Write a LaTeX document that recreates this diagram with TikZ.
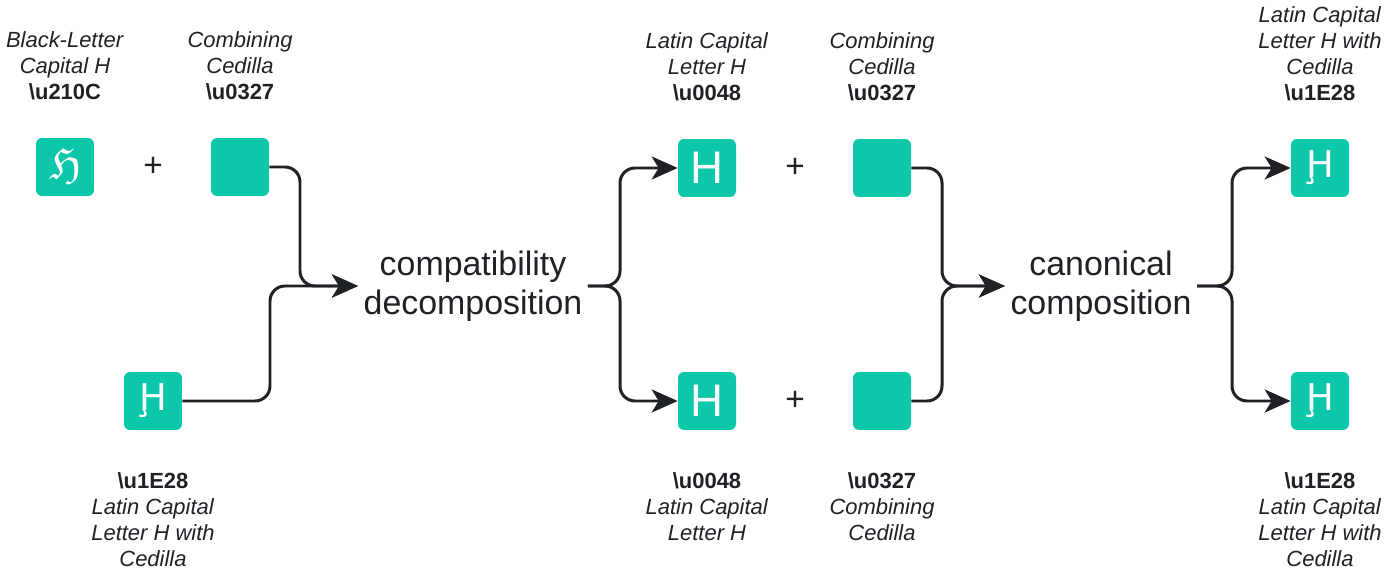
\documentclass[tikz,border=0pt]{standalone}
\usepackage{fontspec}
\setmainfont{Liberation Sans}
\newfontfamily\dejavu{DejaVu Sans}
\usepackage{tikz}
\usetikzlibrary{positioning,arrows.meta}
\definecolor{tealbox}{RGB}{12,199,169}
\definecolor{ink}{RGB}{30,33,38}

\begin{document}
\begin{tikzpicture}[
			x=0.02cm, y=-0.02cm,
			box/.style={fill=tealbox, rounded corners=0.12cm, minimum size=1.16cm, inner sep=0pt, text=white},
			hbox/.style={box, font=\fontsize{26}{26}\selectfont},
			dbox/.style={box, font=\dejavu\fontsize{21}{21}\selectfont},
			fbox/.style={box, font=\dejavu\fontsize{24}{24}\selectfont},
			lbl/.style={align=center, inner sep=0pt, text=ink, font=\fontsize{12.5}{14.8}\selectfont},
			big/.style={align=center, inner sep=3pt, text=ink, font=\fontsize{19.3}{22.2}\selectfont},
			plus/.style={text=ink, font=\fontsize{19}{20}\selectfont},
			link/.style={draw=ink, line width=1.7pt, rounded corners=0.3cm, -{Stealth[length=0.52cm,width=0.46cm,inset=0.14cm]}}
			]
			\useasboundingbox (0,0) rectangle (1400,574);

			\node[fbox] (b1) at (65,167) {ℌ};
			\node[plus] (p1) at (153,167) {+};
			\node[box] (b2) at (240,167) {};
			\node[dbox] (b3) at (153,401) {Ḩ};

			\node[lbl, above=0.74cm of b1] (t1) {\textit{Black-Letter}\\\textit{Capital H}\\\textbf{\textbackslash u210C}};
			\node[lbl, above=0.74cm of b2] (t2) {\textit{Combining}\\\textit{Cedilla}\\\textbf{\textbackslash u0327}};
			\node[lbl, below=0.84cm of b3] (t3) {\textbf{\textbackslash u1E28}\\\textit{Latin Capital}\\\textit{Letter H with}\\\textit{Cedilla}};

			\node[big] (comp) at (473,286) {compatibility\\decomposition};

			\node[hbox] (b4) at (707,168) {H};
			\node[plus] (p2) at (795,168) {+};
			\node[box] (b6) at (882,168) {};
			\node[hbox] (b5) at (707,401) {H};
			\node[plus] (p3) at (795,401) {+};
			\node[box] (b7) at (882,401) {};

			\node[lbl, above=0.74cm of b4] (t4) {\textit{Latin Capital}\\\textit{Letter H}\\\textbf{\textbackslash u0048}};
			\node[lbl, above=0.74cm of b6] (t6) {\textit{Combining}\\\textit{Cedilla}\\\textbf{\textbackslash u0327}};
			\node[lbl, below=0.84cm of b5] (t5) {\textbf{\textbackslash u0048}\\\textit{Latin Capital}\\\textit{Letter H}};
			\node[lbl, below=0.84cm of b7] (t7) {\textbf{\textbackslash u0327}\\\textit{Combining}\\\textit{Cedilla}};

			\node[big] (canon) at (1101,286) {canonical\\composition};

			\node[dbox] (b8) at (1320,168) {Ḩ};
			\node[dbox] (b9) at (1320,401) {Ḩ};

			\node[lbl, above=0.74cm of b8] (t8) {\textit{Latin Capital}\\\textit{Letter H with}\\\textit{Cedilla}\\\textbf{\textbackslash u1E28}};
			\node[lbl, below=0.84cm of b9] (t9) {\textbf{\textbackslash u1E28}\\\textit{Latin Capital}\\\textit{Letter H with}\\\textit{Cedilla}};

			\coordinate (ja) at (300,286);
			\coordinate (jb) at (270,286);
			\coordinate (jc) at (620,286);
			\coordinate (jd) at (942,286);
			\coordinate (je) at (1232,286);

			\draw[link] (b2.east) -| (ja) -- (comp.west);
			\draw[link] (b3.east) -| (jb) -- (comp.west);
			\draw[link] (comp.east) -| (jc |- b4.west) -- (b4.west);
			\draw[link] (comp.east) -| (jc |- b5.west) -- (b5.west);
			\draw[link] (b6.east) -| (jd) -- (canon.west);
			\draw[link] (b7.east) -| (jd) -- (canon.west);
			\draw[link] (canon.east) -| (je |- b8.west) -- (b8.west);
			\draw[link] (canon.east) -| (je |- b9.west) -- (b9.west);

			\end{tikzpicture}
\end{document}
